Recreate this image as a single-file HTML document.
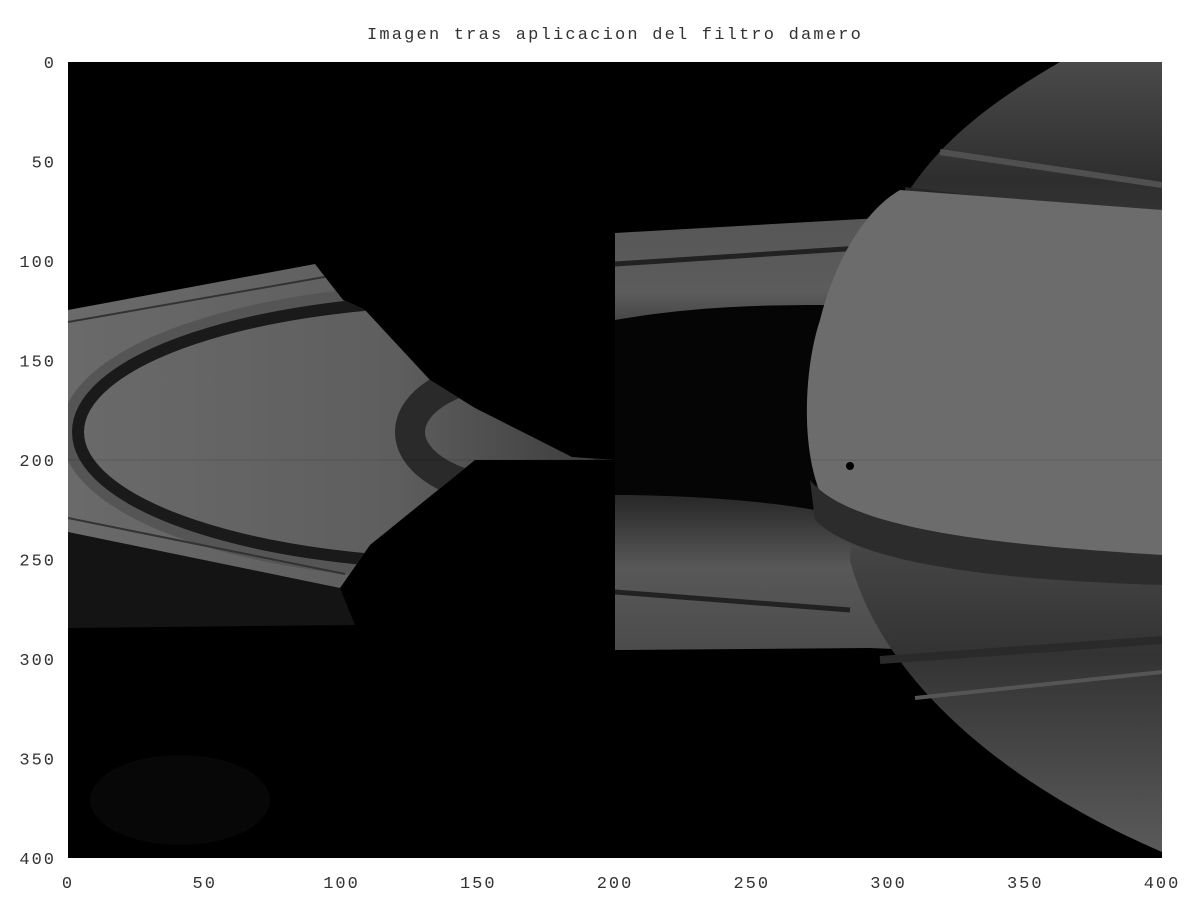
<!DOCTYPE html>
<html><head><meta charset="utf-8"><style>
html,body{margin:0;padding:0;background:#fff;}
svg{display:block;}
text{font-family:"Liberation Mono",monospace;fill:#333;}
</style></head><body>
<svg id="chart" width="1200" height="900" viewBox="0 0 1200 900">
<defs>
 <clipPath id="axclip"><rect x="68" y="62" width="1094" height="796"/></clipPath>
 <clipPath id="leftclip"><path d="M68,310 L315,264 L343,300 L365,310 L430,380 L475,408 L572,457 L615,460 L475,460 L370,545 L340,588 L68,532 Z"/></clipPath>
 <clipPath id="rightclip"><rect x="615" y="62" width="547" height="796"/></clipPath>
 <linearGradient id="lring" x1="0" y1="0" x2="1" y2="0">
  <stop offset="0" stop-color="#6a6a6a"/><stop offset="0.6" stop-color="#5e5e5e"/><stop offset="1" stop-color="#3a3a3a"/>
 </linearGradient>
 <linearGradient id="circ" x1="0" y1="0" x2="0" y2="1">
  <stop offset="0" stop-color="#4a4a4a"/><stop offset="0.15" stop-color="#2e2e2e"/><stop offset="0.5" stop-color="#555"/><stop offset="0.75" stop-color="#333"/><stop offset="1" stop-color="#5a5a5a"/>
 </linearGradient>
 <linearGradient id="rband" x1="0" y1="0" x2="0" y2="1">
  <stop offset="0" stop-color="#555"/><stop offset="0.2" stop-color="#5c5c5c"/><stop offset="0.35" stop-color="#2a2a2a"/><stop offset="0.65" stop-color="#2a2a2a"/><stop offset="0.8" stop-color="#585858"/><stop offset="1" stop-color="#4a4a4a"/>
 </linearGradient>
</defs>
<text x="615" y="39" text-anchor="middle" font-size="17" letter-spacing="2.2">Imagen tras aplicacion del filtro damero</text>
<g clip-path="url(#axclip)">
 <rect x="68" y="62" width="1094" height="796" fill="#000"/>
 <path d="M68,532 L340,588 L355,625 L68,628 Z" fill="#141414"/>
 <ellipse cx="180" cy="800" rx="90" ry="45" fill="#070707"/>
 <g clip-path="url(#leftclip)">
  <rect x="68" y="250" width="547" height="350" fill="url(#lring)"/>
  <ellipse cx="470" cy="432" rx="398" ry="138" fill="none" stroke="#555" stroke-width="22"/>
  <ellipse cx="470" cy="432" rx="392" ry="132" fill="none" stroke="#1a1a1a" stroke-width="12"/>
  <ellipse cx="520" cy="432" rx="110" ry="60" fill="none" stroke="#2a2a2a" stroke-width="30"/>
  <line x1="68" y1="322" x2="330" y2="276" stroke="#333" stroke-width="2"/>
  <line x1="68" y1="518" x2="345" y2="574" stroke="#333" stroke-width="2"/>
 </g>
 <g clip-path="url(#rightclip)">
  <path d="M615,233 L880,218 L1162,200 L1162,660 L870,648 L615,650 Z" fill="url(#rband)"/>
  <line x1="615" y1="264" x2="860" y2="248" stroke="#222" stroke-width="5"/>
  <line x1="615" y1="592" x2="850" y2="610" stroke="#222" stroke-width="5"/>
  <path d="M615,320 C700,305 780,305 830,305 L815,510 C760,500 680,495 615,495 Z" fill="#050505"/>
  <path d="M1060,62 C960,120 890,180 865,300 L850,560 C870,640 950,760 1162,852 L1162,62 Z" fill="url(#circ)"/>
  <line x1="940" y1="152" x2="1162" y2="185" stroke="#505050" stroke-width="6"/>
  <line x1="905" y1="190" x2="1162" y2="222" stroke="#262626" stroke-width="6"/>
  <path d="M900,190 L1162,210 L1162,570 C1050,565 900,555 840,520 C800,490 800,380 820,320 C835,260 865,210 900,190 Z" fill="#6c6c6c"/>
  <path d="M810,480 C850,530 1000,545 1162,555 L1162,585 C1000,580 860,565 815,520 Z" fill="#2c2c2c"/>
  <line x1="880" y1="660" x2="1162" y2="640" stroke="#2a2a2a" stroke-width="8"/>
  <line x1="915" y1="698" x2="1162" y2="672" stroke="#555" stroke-width="4"/>
  <circle cx="850" cy="466" r="4" fill="#000"/>
 </g>
 <line x1="68" y1="460" x2="1162" y2="460" stroke="#000" stroke-opacity="0.15" stroke-width="1"/>
</g>
<g id="xticks"></g>
<g id="yticks"></g>
<script>
const xTicks = [0, 50, 100, 150, 200, 250, 300, 350, 400];
const yTicks = [0, 50, 100, 150, 200, 250, 300, 350, 400];
const xScale = v => 68 + v * (1162 - 68) / 400;
const yScale = v => 62 + v * (858 - 62) / 400;
const NS = 'http://www.w3.org/2000/svg';
const gx = document.getElementById('xticks');
xTicks.forEach(v => {
  const t = document.createElementNS(NS, 'text');
  t.setAttribute('x', xScale(v));
  t.setAttribute('y', 888);
  t.setAttribute('text-anchor', 'middle');
  t.setAttribute('font-size', '17');
  t.setAttribute('letter-spacing', '2');
  t.textContent = v;
  
  
  gx.appendChild(t);
});
const gy = document.getElementById('yticks');
yTicks.forEach(v => {
  const t = document.createElementNS(NS, 'text');
  t.setAttribute('x', 56);
  t.setAttribute('y', yScale(v) + 6);
  t.setAttribute('text-anchor', 'end');
  t.setAttribute('font-size', '17');
  t.setAttribute('letter-spacing', '2');
  t.textContent = v;
  
  
  gy.appendChild(t);
});
</script>
</svg>
</body></html>
